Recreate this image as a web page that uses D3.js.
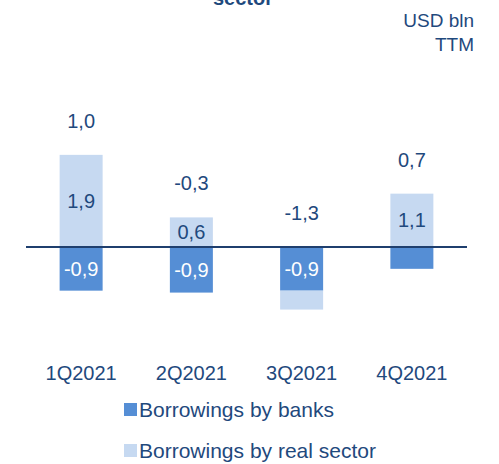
<!DOCTYPE html>
<html>
<head>
<meta charset="utf-8">
<script src="https://cdn.jsdelivr.net/npm/d3@7"></script>
<style>
  body { margin: 0; background: #fff; }
  svg { display: block; font-family: 'Liberation Sans', Arial, sans-serif; }
</style>
</head>
<body>
<svg width="499" height="464"></svg>
<script>
var quarters = ['1Q2021', '2Q2021', '3Q2021', '4Q2021'],
  banks = [-0.9, -0.94, -0.9, -0.45],
  realSector = [1.9, 0.61, -0.39, 1.1],
  totals = [1.0, -0.3, -1.3, 0.7],
  seriesNames = ['Borrowings by banks', 'Borrowings by real sector'];

var svg = d3.select('svg'),
  textColor = '#1F497D',
  colors = ['#558ED5', '#C6D9F1'];

var x = d3.scaleBand().domain(quarters).range([26, 467])
  .paddingInner(0.61).paddingOuter(0.305);
var y = d3.scaleLinear().domain([-2, 2.5]).range([344, 125.75]);

var fmt = (v) => d3.format('.1f')(v).replace('.', ',').replace('−', '-');

// stacking: banks first from zero, real sector continues in same direction
var segs = [];
quarters.forEach((q, i) => {
  var pos = 0, neg = 0;
  [banks[i], realSector[i]].forEach((v, s) => {
    var y0, y1;
    if (v >= 0) { y0 = pos; y1 = pos + v; pos = y1; }
    else { y0 = neg; y1 = neg + v; neg = y1; }
    segs.push({ q: q, s: s, v: v, y0: y0, y1: y1 });
  });
});

svg.selectAll('rect.seg')
  .data(segs)
  .enter()
  .append('rect')
  .attr('class', 'seg')
  .attr('x', (d) => x(d.q))
  .attr('width', x.bandwidth())
  .attr('y', (d) => y(Math.max(d.y0, d.y1)))
  .attr('height', (d) => Math.abs(y(d.y0) - y(d.y1)))
  .attr('fill', (d) => colors[d.s]);

// segment labels (only where big enough)
svg.selectAll('text.seg')
  .data(segs.filter((d) => Math.abs(d.v) >= 0.5))
  .enter()
  .append('text')
  .attr('class', 'seg')
  .attr('x', (d) => x(d.q) + x.bandwidth() / 2)
  .attr('y', (d) => (y(d.y0) + y(d.y1)) / 2 + 7)
  .attr('text-anchor', 'middle')
  .attr('font-size', 20)
  .attr('fill', (d) => (d.s === 0 ? '#fff' : textColor))
  .text((d) => fmt(d.v));

// zero line
svg.append('line')
  .attr('x1', 26).attr('x2', 467)
  .attr('y1', y(0)).attr('y2', y(0))
  .attr('stroke', '#1F3F6E')
  .attr('stroke-width', 2);

// totals above the stack
svg.selectAll('text.total')
  .data(quarters)
  .enter()
  .append('text')
  .attr('class', 'total')
  .attr('x', (d) => x(d) + x.bandwidth() / 2)
  .attr('y', (d, i) => {
    var top = Math.max(0, banks[i]) + Math.max(0, realSector[i]);
    return y(top) - 27;
  })
  .attr('text-anchor', 'middle')
  .attr('font-size', 20)
  .attr('fill', textColor)
  .text((d, i) => fmt(totals[i]));

// x axis labels
var xAxis = d3.axisBottom(x).tickSize(0).tickPadding(0);
var gx = svg.append('g').attr('transform', 'translate(0, 366)').call(xAxis);
gx.select('.domain').remove();
gx.selectAll('text')
  .attr('dy', '0.71em')
  .attr('font-size', 20)
  .attr('font-family', "'Liberation Sans', Arial, sans-serif")
  .attr('fill', textColor);

// title (cut off at top in the original) and unit note
svg.append('text')
  .attr('x', 243).attr('y', 5)
  .attr('text-anchor', 'middle')
  .attr('font-size', 20)
  .attr('font-weight', 'bold')
  .attr('fill', textColor)
  .text('sector');

svg.append('text')
  .attr('x', 474).attr('y', 27)
  .attr('text-anchor', 'end')
  .attr('font-size', 19)
  .attr('fill', textColor)
  .text('USD bln');
svg.append('text')
  .attr('x', 474).attr('y', 51)
  .attr('text-anchor', 'end')
  .attr('font-size', 19)
  .attr('fill', textColor)
  .text('TTM');

// legend
var legend = svg.selectAll('g.legend')
  .data(seriesNames)
  .enter()
  .append('g')
  .attr('class', 'legend')
  .attr('transform', (d, i) => `translate(124, ${410 + i * 41})`);
legend.append('rect')
  .attr('x', 0).attr('y', -7)
  .attr('width', 13).attr('height', 13)
  .attr('fill', (d, i) => colors[i]);
legend.append('text')
  .attr('x', 15).attr('y', 7)
  .attr('font-size', 21)
  .attr('fill', textColor)
  .text((d) => d);
</script>
</body>
</html>
